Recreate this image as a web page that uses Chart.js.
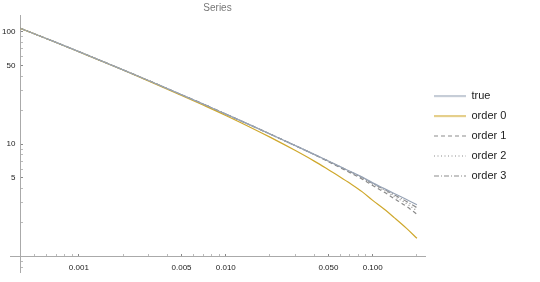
<!DOCTYPE html>
<html>
<head>
<meta charset="utf-8">
<script src="https://cdn.jsdelivr.net/npm/chart.js@4.4.1/dist/chart.umd.min.js"></script>
<style>
html,body{margin:0;padding:0;background:#fff;}
#wrap{width:540px;height:282px;position:relative;}
</style>
</head>
<body>
<div id="wrap"><canvas id="c" width="540" height="282"></canvas></div>
<script>
// ---- data ----
const xValues  = [0.0004, 0.0007, 0.001, 0.002, 0.003, 0.005, 0.007, 0.01, 0.015, 0.02, 0.03, 0.04, 0.05, 0.06, 0.07, 0.085, 0.1, 0.12, 0.14, 0.17, 0.2];
const trueVals = [106.7, 79.9, 66.2, 45.6, 36.5, 27.4, 22.7, 18.45, 14.56, 12.28, 9.63, 8.09, 7.06, 6.30, 5.73, 5.08, 4.52, 4.02, 3.64, 3.22, 2.89];
const order0   = [106.6, 79.8, 66.0, 45.4, 36.2, 27.0, 22.2, 17.95, 13.9, 11.51, 8.70, 7.05, 5.91, 5.10, 4.48, 3.76, 3.16, 2.63, 2.22, 1.78, 1.455];
const order1   = [106.7, 79.9, 66.2, 45.6, 36.5, 27.4, 22.7, 18.45, 14.56, 12.28, 9.62, 8.06, 6.96, 6.17, 5.57, 4.88, 4.29, 3.73, 3.28, 2.79, 2.38];
const order2   = [106.7, 79.9, 66.2, 45.6, 36.5, 27.4, 22.7, 18.45, 14.56, 12.28, 9.63, 8.08, 7.03, 6.25, 5.66, 4.99, 4.41, 3.87, 3.44, 2.96, 2.56];
const order3   = [106.7, 79.9, 66.2, 45.6, 36.5, 27.4, 22.7, 18.45, 14.56, 12.28, 9.63, 8.09, 7.05, 6.29, 5.70, 5.04, 4.47, 3.95, 3.54, 3.09, 2.72];
const seriesNames = ['true', 'order 0', 'order 1', 'order 2', 'order 3'];
const xTickValues = [0.001, 0.005, 0.01, 0.05, 0.1];
const xTickLabels = ['0.001', '0.005', '0.010', '0.050', '0.100'];
const yTickValues = [5, 10, 50, 100];
const yTickLabels = ['5', '10', '50', '100'];

const toPts = arr => xValues.map((x, i) => ({x: x, y: arr[i]}));
const styles = [
  {c: '#98a4b6', d: []},
  {c: '#cfa82c', d: []},
  {c: '#8a8a8a', d: [4, 3]},
  {c: '#8a8a8a', d: [1, 2.5]},
  {c: '#8a8a8a', d: [5, 2, 1, 2]}
];

// small legend swatch showing the line style
function swatch(color, dash) {
  const cv = document.createElement('canvas');
  cv.width = 32; cv.height = 3;
  const g = cv.getContext('2d');
  g.strokeStyle = color; g.lineWidth = 1.2; g.setLineDash(dash);
  g.beginPath(); g.moveTo(0, 1.5); g.lineTo(32, 1.5); g.stroke();
  return cv;
}

const allSeries = [trueVals, order0, order1, order2, order3];
const datasets = allSeries.map((arr, i) => ({
  label: seriesNames[i],
  data: toPts(arr),
  borderColor: styles[i].c,
  backgroundColor: styles[i].c,
  borderDash: styles[i].d,
  borderWidth: 1.2,
  pointRadius: 0,
  pointStyle: swatch(styles[i].c, styles[i].d),
  fill: false,
  cubicInterpolationMode: 'monotone'
}));

function near(v, list) {
  for (let i = 0; i < list.length; i++) {
    if (Math.abs(v - list[i]) / list[i] < 1e-6) return i;
  }
  return -1;
}

function minorTicks(lo, hi) {
  const out = [];
  for (let e = -6; e <= 4; e++) {
    for (let m = 1; m <= 9; m++) {
      const v = parseFloat((m * Math.pow(10, e)).toPrecision(6));
      if (v >= lo * 0.999 && v <= hi * 1.001) out.push({value: v});
    }
  }
  return out;
}

const X_MIN = 0.00034, X_MAX = 0.227, Y_MIN = 0.73, Y_MAX = 140;
const tickFont = {family: 'Liberation Sans', size: 8};

new Chart(document.getElementById('c'), {
  type: 'line',
  data: {datasets: datasets},
  options: {
    responsive: false,
    animation: false,
    layout: {padding: {left: 10, right: 32, top: 0, bottom: 10}},
    plugins: {
      title: {
        display: true,
        text: 'Series',
        fullSize: false,
        color: '#777',
        font: {family: 'Liberation Sans', size: 10, weight: 'normal'},
        padding: {top: 2, bottom: 1}
      },
      legend: {
        position: 'right',
        labels: {
          usePointStyle: true,
          pointStyleWidth: 32,
          boxWidth: 32,
          boxHeight: 8,
          padding: 9,
          color: '#222',
          font: {family: 'Liberation Sans', size: 11}
        }
      },
      tooltip: {enabled: false}
    },
    scales: {
      x: {
        type: 'logarithmic',
        bounds: 'data',
        min: X_MIN,
        max: X_MAX,
        position: {y: 1},
        afterBuildTicks: s => { s.ticks = minorTicks(0.0004, 0.2); },
        grid: {
          drawOnChartArea: false, drawTicks: true, tickLength: -3,
          tickColor: ctx => near(ctx.tick ? ctx.tick.value : 0, xTickValues) >= 0 ? '#888' : '#bbb'
        },
        border: {display: true, color: '#aaa', width: 1},
        ticks: {
          autoSkip: false, maxRotation: 0, padding: 9,
          color: '#222',
          font: tickFont,
          callback: v => { const i = near(v, xTickValues); return i >= 0 ? xTickLabels[i] : ''; }
        }
      },
      y: {
        type: 'logarithmic',
        bounds: 'data',
        min: Y_MIN,
        max: Y_MAX,
        position: {x: 0.0004},
        afterBuildTicks: s => { s.ticks = minorTicks(0.8, 100); },
        grid: {
          drawOnChartArea: false, drawTicks: true, tickLength: -3,
          tickColor: ctx => near(ctx.tick ? ctx.tick.value : 0, yTickValues) >= 0 ? '#888' : '#bbb'
        },
        border: {display: true, color: '#aaa', width: 1},
        ticks: {display: false}
      },
      yLabels: {
        type: 'logarithmic',
        axis: 'y',
        bounds: 'data',
        min: Y_MIN,
        max: Y_MAX,
        position: {x: 0.00037},
        afterBuildTicks: s => { s.ticks = yTickValues.map(v => ({value: v})); },
        grid: {display: false, drawTicks: false},
        border: {display: false},
        ticks: {
          autoSkip: false, padding: 0,
          color: '#222',
          font: tickFont,
          callback: v => { const i = near(v, yTickValues); return i >= 0 ? yTickLabels[i] : ''; }
        }
      }
    }
  }
});
</script>
</body>
</html>
